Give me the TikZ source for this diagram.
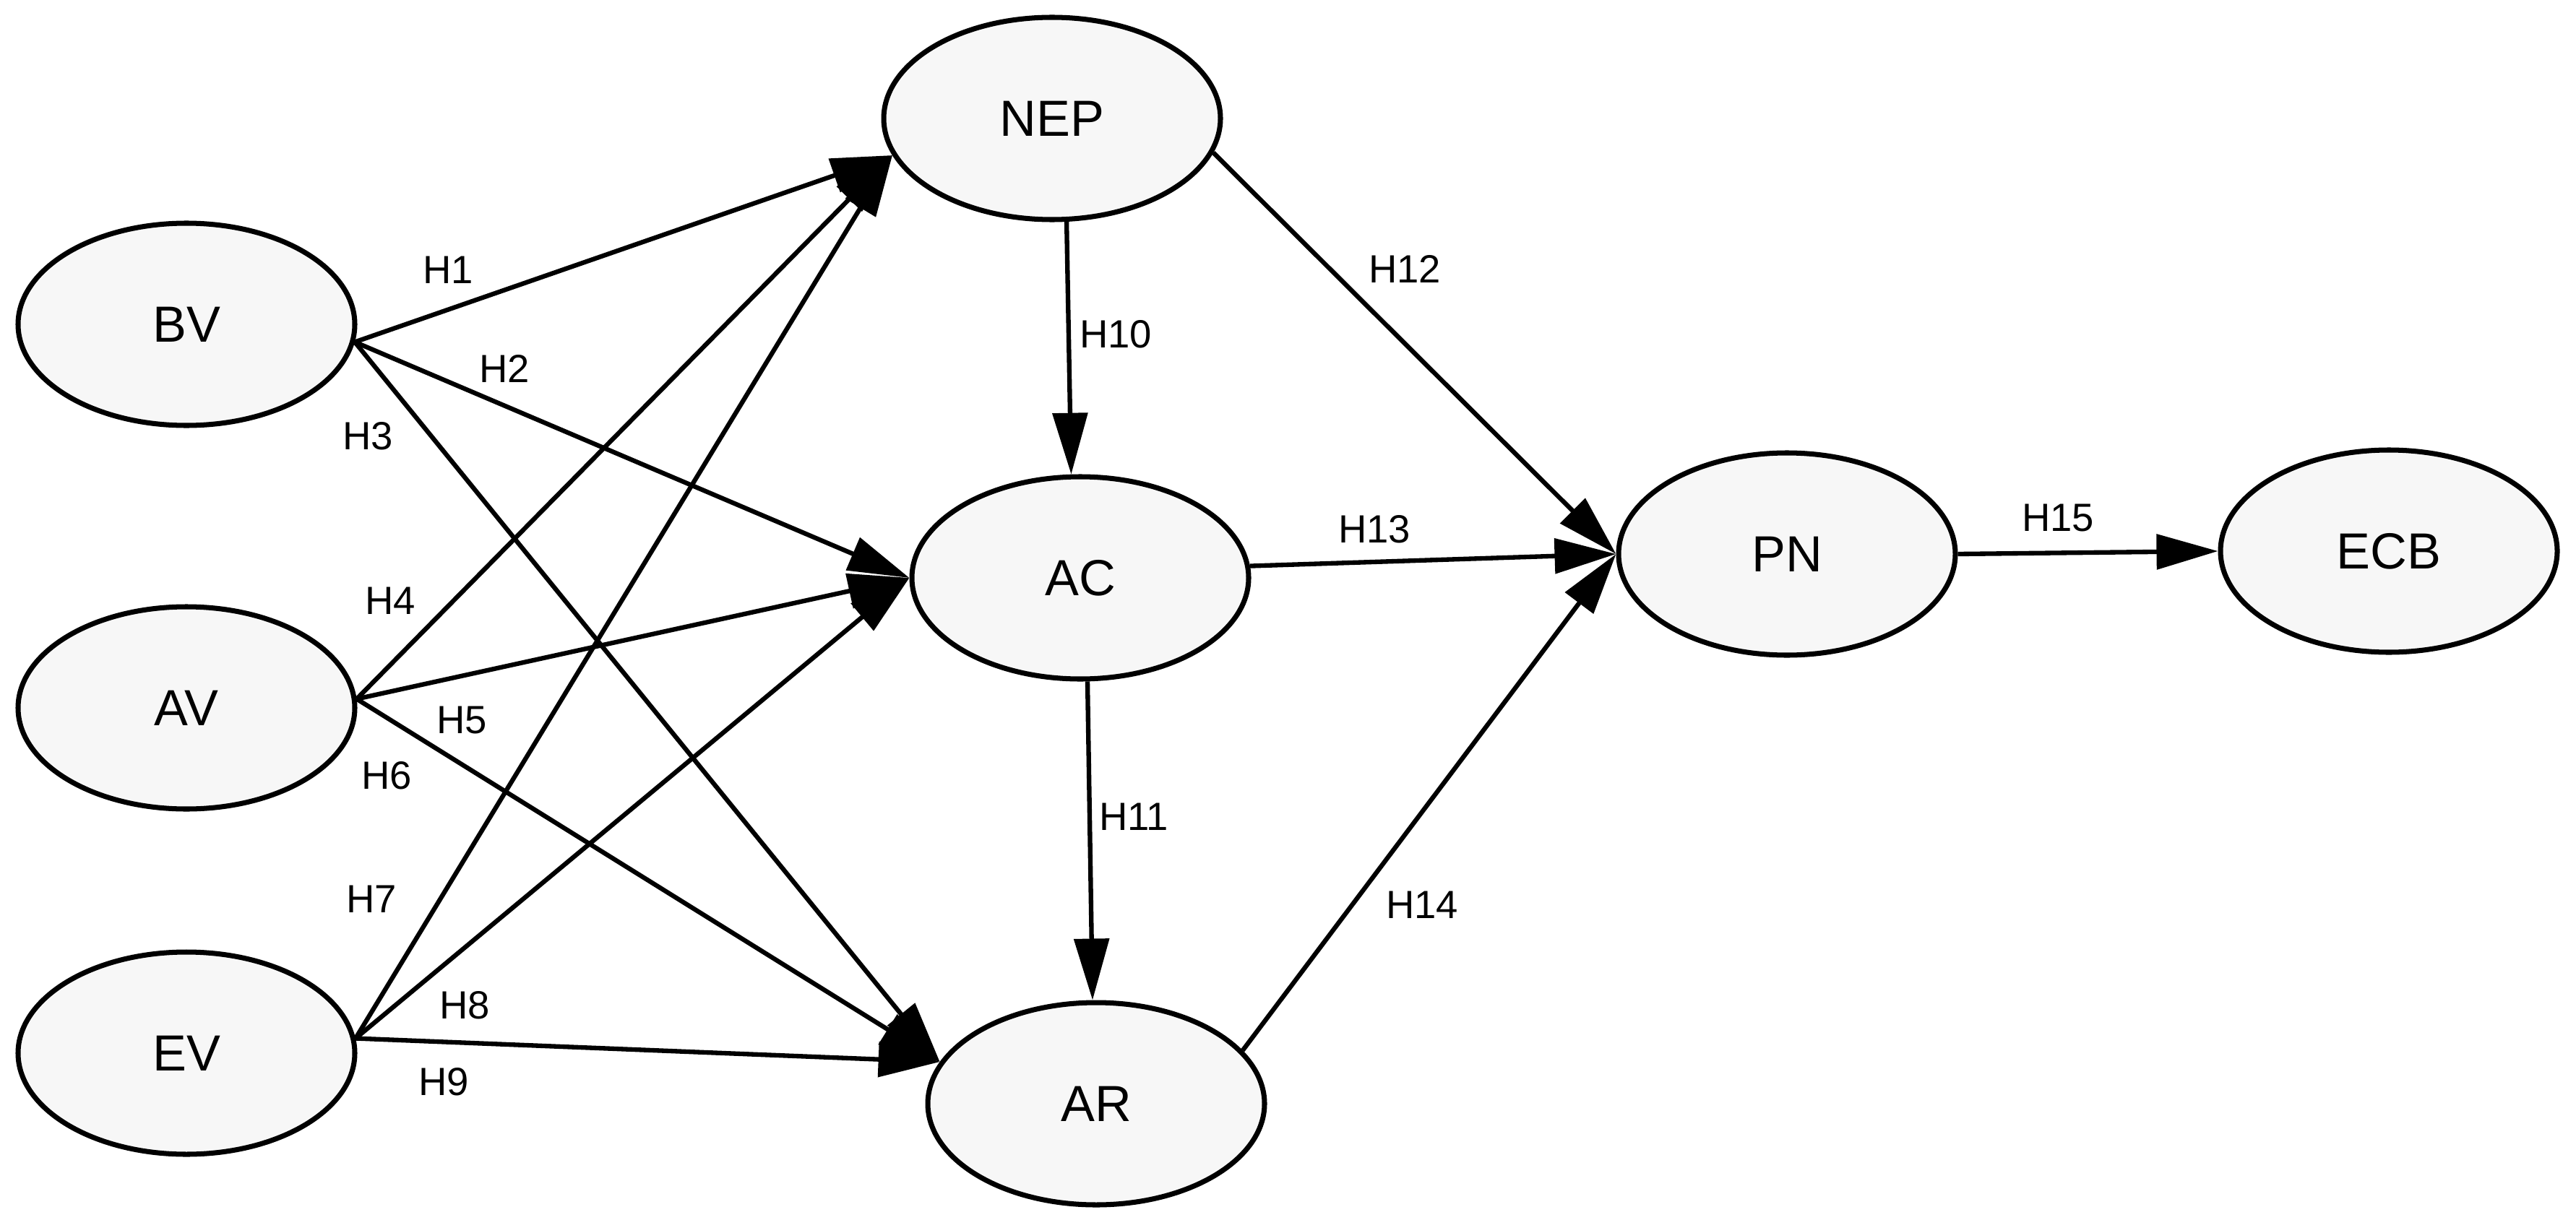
\documentclass[tikz,border=0pt]{standalone}
\usepackage{fontspec}
\setmainfont{Liberation Sans}
\usetikzlibrary{arrows.meta, shapes.geometric}

\begin{document}
\begin{tikzpicture}[>={Triangle[length = 0.85cm, width = 0.48cm]}]
    \useasboundingbox (0, 0) rectangle (35.65, -16.89);

    \tikzstyle{construct} = [ellipse, draw, line width = 2pt, fill = gray!6, inner sep = 0pt, minimum width = 4.66cm, minimum height = 2.8cm, font = \fontsize{20}{24}\selectfont]
    \tikzstyle{hyp} = [inner sep = 0pt, font = \fontsize{15.5}{18}\selectfont]
    \tikzstyle{rel} = [->, line width = 1.8pt]

    % constructs
    \node[construct] (bv) at (2.58, -4.49) {BV};
    \node[construct] (av) at (2.58, -9.80) {AV};
    \node[construct] (ev) at (2.58, -14.58) {EV};
    \node[construct] (nep) at (14.56, -1.64) {NEP};
    \node[construct] (ac) at (14.95, -8.00) {AC};
    \node[construct] (ar) at (15.17, -15.28) {AR};
    \node[construct] (pn) at (24.73, -7.67) {PN};
    \node[construct] (ecb) at (33.06, -7.63) {ECB};

    % paths
    \draw[rel] (bv.-6) -- (nep.193);
    \draw[rel] (bv.-6) -- (ac.west);
    \draw[rel] (bv.-6) -- (ar.165);
    \draw[rel] (av.3) -- (nep.193);
    \draw[rel] (av.3) -- (ac.west);
    \draw[rel] (av.3) -- (ar.165);
    \draw[rel] (ev.5) -- (nep.193);
    \draw[rel] (ev.5) -- (ac.west);
    \draw[rel] (ev.5) -- (ar.165);
    \draw[rel] (nep.-82) -- (ac.95);
    \draw[rel] (ac.-86) -- (ar.92);
    \draw[rel] (nep.-12) -- (pn.west);
    \draw[rel] (ac.4) -- (pn.west);
    \draw[rel] (ar.20) -- (pn.west);
    \draw[rel] (pn.east) -- (ecb.west);

    % hypotheses
    \node[hyp] (h1) at (6.20, -3.74) {H1};
    \node[hyp] (h2) at (6.98, -5.10) {H2};
    \node[hyp] (h3) at (5.09, -6.04) {H3};
    \node[hyp] (h4) at (5.40, -8.32) {H4};
    \node[hyp] (h5) at (6.39, -9.97) {H5};
    \node[hyp] (h6) at (5.35, -10.74) {H6};
    \node[hyp] (h7) at (5.14, -12.45) {H7};
    \node[hyp] (h8) at (6.43, -13.92) {H8};
    \node[hyp] (h9) at (6.14, -14.98) {H9};
    \node[hyp] (h10) at (15.44, -4.63) {H10};
    \node[hyp] (h11) at (15.69, -11.31) {H11};
    \node[hyp] (h12) at (19.44, -3.72) {H12};
    \node[hyp] (h13) at (19.02, -7.33) {H13};
    \node[hyp] (h14) at (19.68, -12.53) {H14};
    \node[hyp] (h15) at (28.48, -7.17) {H15};
\end{tikzpicture}
\end{document}
